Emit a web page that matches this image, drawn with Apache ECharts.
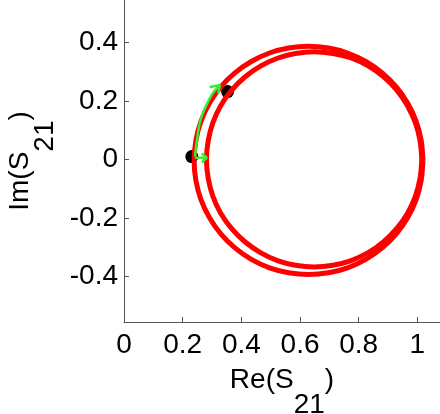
<!DOCTYPE html>
<html>
<head>
<meta charset="utf-8">
<script src="https://cdn.jsdelivr.net/npm/echarts@6/dist/echarts.min.js"></script>
<style>
html,body{margin:0;padding:0;background:#fff;}
#c{width:440px;height:414px;}
</style>
</head>
<body>
<div id="c"></div>
<script>
// Outer loop of the S21 trace [Re, Im]
var outerLoop = [
  [1.019,-0.003],[1.013,0.065],[0.996,0.130],[0.967,0.192],[0.928,0.248],[0.880,0.296],
  [0.824,0.335],[0.762,0.364],[0.697,0.381],[0.629,0.387],[0.561,0.381],[0.496,0.364],
  [0.434,0.335],[0.378,0.296],[0.330,0.248],[0.291,0.192],[0.262,0.130],[0.245,0.065],
  [0.239,-0.003],[0.245,-0.071],[0.262,-0.136],[0.291,-0.198],[0.330,-0.254],[0.378,-0.302],
  [0.434,-0.341],[0.496,-0.370],[0.561,-0.387],[0.629,-0.393],[0.697,-0.387],[0.762,-0.370],
  [0.824,-0.341],[0.880,-0.302],[0.928,-0.254],[0.967,-0.198],[0.996,-0.136],[1.013,-0.071],
  [1.019,-0.003]
];
// Inner loop of the S21 trace [Re, Im]
var innerLoop = [
  [1.015,0.000],[1.009,0.064],[0.993,0.126],[0.966,0.184],[0.929,0.238],[0.884,0.283],
  [0.832,0.320],[0.774,0.347],[0.712,0.362],[0.648,0.368],[0.584,0.362],[0.523,0.346],
  [0.465,0.319],[0.412,0.282],[0.367,0.237],[0.330,0.185],[0.303,0.126],[0.287,0.064],
  [0.281,0.000],[0.287,-0.064],[0.303,-0.126],[0.330,-0.184],[0.367,-0.236],[0.412,-0.281],
  [0.465,-0.318],[0.523,-0.345],[0.584,-0.361],[0.648,-0.367],[0.712,-0.361],[0.774,-0.345],
  [0.832,-0.318],[0.884,-0.281],[0.929,-0.236],[0.966,-0.184],[0.993,-0.126],[1.009,-0.064],
  [1.015,0.000]
];
// Green arrow path along the trace
var arrowPath = [[0.242,0.010],[0.248,0.061],[0.259,0.129],[0.276,0.175],[0.299,0.221],[0.321,0.249],[0.327,0.255]];
var arrowHead = [[0.292,0.247],[0.327,0.255],[0.321,0.226]];
// Short horizontal arrow at the start point
var startArrow = [[0.242,0.006],[0.282,0.006]];
var startHead = [[0.265,0.021],[0.282,0.006],[0.265,-0.010]];
// Marked points
var markedPoints = [[0.231,0.010],[0.353,0.232]];
// Tick values
var xTicks = [0,0.2,0.4,0.6,0.8,1];
var yTicks = [-0.4,-0.2,0,0.2,0.4];

var FONT = 'Liberation Sans';
var nameRich = {
  m: {fontFamily: FONT, fontSize: 28, color: '#000', verticalAlign: 'top', lineHeight: 30},
  s: {fontFamily: FONT, fontSize: 28, color: '#000', verticalAlign: 'top', lineHeight: 30, padding: [25,0,0,0]}
};
var chart = echarts.init(document.getElementById('c'), null, {renderer: 'canvas'});
var red = '#ff0000', green = '#33ee33';
chart.setOption({
  animation: false,
  backgroundColor: '#fff',
  grid: {left: 124, right: 0, top: 0, bottom: 92, containLabel: false, outerBoundsMode: 'none'},
  xAxis: {
    type: 'value', min: 0, max: 1.077,
    name: '{m|Re(S}{s|21}{m|)}', nameLocation: 'middle', nameGap: 44,
    nameTextStyle: {rich: nameRich},
    axisLine: {show: true, onZero: false, lineStyle: {color: '#555', width: 1}},
    axisTick: {show: true, inside: true, length: 5, customValues: xTicks, lineStyle: {color: '#555'}},
    axisLabel: {customValues: xTicks, fontFamily: FONT, fontSize: 28, color: '#000', margin: 9},
    splitLine: {show: false}
  },
  yAxis: {
    type: 'value', min: -0.555, max: 0.545,
    name: '{m|Im(S}{s|21}{m|)}', nameLocation: 'middle', nameGap: 67,
    nameTextStyle: {rich: nameRich},
    axisLine: {show: true, onZero: false, lineStyle: {color: '#555', width: 1}},
    axisTick: {show: true, inside: true, length: 5, customValues: yTicks, lineStyle: {color: '#555'}},
    axisLabel: {customValues: yTicks, fontFamily: FONT, fontSize: 28, color: '#000', margin: 6},
    splitLine: {show: false}
  },
  series: [
    {type: 'line', data: outerLoop, smooth: 0.3, symbol: 'none', lineStyle: {color: red, width: 5}},
    {type: 'line', data: innerLoop, smooth: 0.3, symbol: 'none', lineStyle: {color: red, width: 5}},
    {type: 'scatter', data: markedPoints, symbol: 'circle', symbolSize: 13, itemStyle: {color: '#000', opacity: 1}},
    {type: 'line', data: arrowPath, smooth: 0.4, symbol: 'none', lineStyle: {color: green, width: 2.5}},
    {type: 'line', data: arrowHead, symbol: 'none', lineStyle: {color: green, width: 2.5}},
    {type: 'line', data: startArrow, symbol: 'none', lineStyle: {color: green, width: 2.5}},
    {type: 'line', data: startHead, symbol: 'none', lineStyle: {color: green, width: 2.5}}
  ]
});
</script>
</body>
</html>
